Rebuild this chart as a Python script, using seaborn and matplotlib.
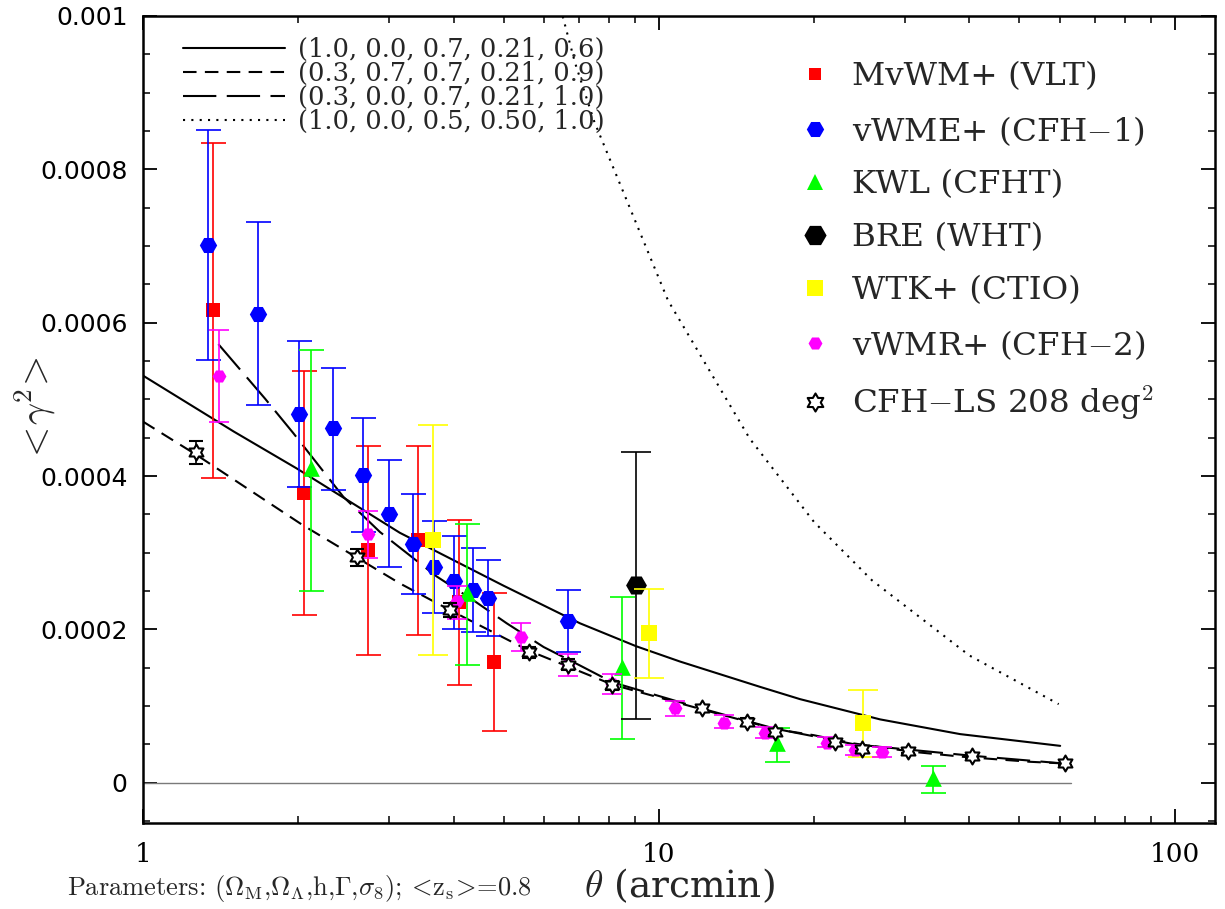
import numpy as np
import pandas as pd
import matplotlib
matplotlib.use("Agg")
import matplotlib.pyplot as plt
import seaborn as sns
from matplotlib.lines import Line2D
from matplotlib.path import Path
from matplotlib.ticker import MultipleLocator, LogLocator, NullFormatter

# ---------------- data ----------------
vlt_x = [1.365, 2.049, 2.731, 3.42, 4.10, 4.79]
vlt_y = [0.000616, 0.000378, 0.000304, 0.000317, 0.000236, 0.000158]
vlt_lo = [0.000397, 0.000219, 0.000167, 0.000193, 0.000127, 0.0000673]
vlt_hi = [0.000835, 0.000537, 0.000439, 0.000439, 0.000343, 0.000248]

cfh1_x = [1.335, 1.669, 2.004, 2.336, 2.671, 3.004, 3.334, 3.672, 4.01, 4.37, 4.674, 6.68]
cfh1_y = [0.000701, 0.000611, 0.000481, 0.000462, 0.000402, 0.000351, 0.000311, 0.000282,
          0.000263, 0.000252, 0.000241, 0.000211]
cfh1_lo = [0.000551, 0.000492, 0.000386, 0.000382, 0.000327, 0.000282, 0.000246, 0.000222,
           0.000201, 0.000196, 0.000191, 0.000171]
cfh1_hi = [0.000851, 0.000731, 0.000576, 0.000541, 0.000476, 0.000421, 0.000376, 0.000341,
           0.000322, 0.000306, 0.000291, 0.000251]

kwl_x = [2.12, 4.255, 8.48, 16.93, 33.94]
kwl_y = [0.000410, 0.000247, 0.000151, 0.0000513, 0.0000064]
kwl_lo = [0.000250, 0.000153, 0.0000565, 0.0000273, -0.000014]
kwl_hi = [0.000564, 0.000337, 0.000242, 0.000071, 0.000022]

bre_x = [9.036]
bre_y = [0.000258]
bre_lo = [0.000083]
bre_hi = [0.000431]

wtk_x = [3.645, 9.58, 24.86]
wtk_y = [0.000317, 0.000195, 0.0000773]
wtk_lo = [0.000167, 0.000136, 0.0000338]
wtk_hi = [0.000467, 0.000253, 0.000121]

cfh2_x = [1.402, 2.73, 4.07, 5.40, 6.68, 8.13, 10.75, 13.4, 16.07, 21.17, 24.03, 27.06]
cfh2_y = [0.000530, 0.000324, 0.000237, 0.000190, 0.000155, 0.000129, 0.0000969, 0.0000781,
          0.0000651, 0.0000521, 0.0000425, 0.0000403]
cfh2_lo = [0.000471, 0.000293, 0.000214, 0.000172, 0.000139, 0.000116, 0.0000869, 0.0000708,
           0.000058, 0.000046, 0.000036, 0.000034]
cfh2_hi = [0.000590, 0.000354, 0.000256, 0.000208, 0.000168, 0.000142, 0.000106, 0.0000882,
           0.000073, 0.000059, 0.000049, 0.000047]

cfhls_x = [1.267, 2.604, 3.94, 5.61, 6.68, 8.13, 12.15, 14.81, 16.81, 21.98, 24.8, 30.48, 40.56, 61.4]
cfhls_y = [0.000431, 0.000294, 0.000225, 0.000170, 0.000154, 0.000127, 0.0000969, 0.0000794,
           0.0000664, 0.0000526, 0.000044, 0.0000416, 0.0000351, 0.000026]
cfhls_err = [0.000015, 0.000011, 0.000009, 0.000007, 0.000007, 0.000006, 0.000005, 0.000005,
             0.000004, 0.000004, 0.000003, 0.000003, 0.000003, 0.000003]

# model curves
m1_x = [1.0, 1.5, 1.985, 3.147, 5.0, 7.03, 9.04, 11.0, 15.72, 18.79, 26.86, 38.4, 60.0]
m1_y = [0.000531, 0.000458, 0.000410, 0.000326, 0.000257, 0.000208, 0.000178, 0.000158,
        0.000125, 0.000109, 0.0000826, 0.0000634, 0.0000481]
m2_x = [1.0, 1.267, 2.04, 3.147, 3.94, 5.61, 8.13, 12.15, 16.8, 19.94, 23.85, 31.1, 38.9, 52.5, 61.5]
m2_y = [0.000471, 0.000428, 0.000336, 0.000260, 0.000225, 0.000172, 0.000128, 0.0000955,
        0.0000700, 0.0000621, 0.0000513, 0.0000403, 0.0000338, 0.0000273, 0.0000250]
m3_x = [1.4, 1.724, 1.956, 2.445, 2.88, 3.71, 4.37, 5.07, 5.98, 7.03, 8.13, 12.0, 16.8, 24.0, 40.0, 60.0]
m3_y = [0.000572, 0.000501, 0.000456, 0.000373, 0.000327, 0.000269, 0.000238, 0.000208,
        0.000177, 0.000153, 0.000131, 0.0000975, 0.0000705, 0.0000500, 0.0000355, 0.0000255]
m4_x = [6.45, 6.88, 7.49, 10.42, 15.0, 20.0, 25.9, 40.0, 59.6]
m4_y = [0.00101, 0.000939, 0.000863, 0.000629, 0.000449, 0.00034, 0.000264, 0.000166, 0.0001025]

model_labels = ["(1.0, 0.0, 0.7, 0.21, 0.6)", "(0.3, 0.7, 0.7, 0.21, 0.9)",
                "(0.3, 0.0, 0.7, 0.21, 1.0)", "(1.0, 0.0, 0.5, 0.50, 1.0)"]

zero_x = [1.0, 63.0]
zero_y = [0.0, 0.0]

y_ticks = [0.0, 0.0002, 0.0004, 0.0006, 0.0008, 0.001]
y_tick_labels = ["0", "0.0002", "0.0004", "0.0006", "0.0008", "0.001"]
x_ticks = [1, 10, 100]
x_tick_labels = ["1", "10", "100"]

series_labels = ["MvWM+ (VLT)", "vWME+ (CFH$-$1)", "KWL (CFHT)", "BRE (WHT)",
                 "WTK+ (CTIO)", "vWMR+ (CFH$-$2)", "CFH$-$LS 208 deg$^2$"]

# ---------------- style ----------------
sns.set_theme(style="ticks")
plt.rcParams.update({
    "axes.edgecolor": "black",
    "axes.linewidth": 1.8,
    "xtick.color": "black",
    "ytick.color": "black",
    "mathtext.fontset": "cm",
    "axes.formatter.use_mathtext": True,
    "axes.facecolor": "white",
    "figure.facecolor": "white",
})
plt.rcParams["font.family"] = ["DejaVu Serif", "DejaVu Sans"]

# hexagram marker
ang = np.pi / 2 + np.arange(12) * np.pi / 6
rad = np.where(np.arange(12) % 2 == 0, 1.0, 0.58)
verts = np.column_stack([rad * np.cos(ang), rad * np.sin(ang)])
verts = np.vstack([verts, verts[:1]])
star6 = Path(verts, [Path.MOVETO] + [Path.LINETO] * 11 + [Path.CLOSEPOLY])

fig = plt.figure(figsize=(12.25, 9.09), dpi=100)
ax = fig.add_axes([0.11673, 0.09505, 0.87486, 0.88735])
ax.set_xscale("log")

# zero line
ax.plot(zero_x, zero_y, color="#7a7a7a", lw=1.0, zorder=1)

# model curves via seaborn
curves = pd.concat([
    pd.DataFrame({"theta": xs, "g2": ys, "model": lab})
    for xs, ys, lab in zip([m1_x, m2_x, m3_x, m4_x], [m1_y, m2_y, m3_y, m4_y], model_labels)
], ignore_index=True)
dash_codes = ["", (6.5, 4), (16, 5), (1, 3)]
sns.lineplot(data=curves, x="theta", y="g2", style="model", style_order=model_labels,
             dashes=dict(zip(model_labels, dash_codes)), color="black", linewidth=1.5,
             estimator=None, legend=False, ax=ax, zorder=2)

# data sets
datasets = [
    (vlt_x, vlt_y, vlt_lo, vlt_hi, "#ff0000", "s", 10, 9),
    (cfh1_x, cfh1_y, cfh1_lo, cfh1_hi, "#0000ff", "H", 12.5, 9),
    (kwl_x, kwl_y, kwl_lo, kwl_hi, "#00ff00", "^", 12, 9),
    (bre_x, bre_y, bre_lo, bre_hi, "#000000", "H", 15, 10.5),
    (wtk_x, wtk_y, wtk_lo, wtk_hi, "#ffff00", "s", 11.5, 10.5),
    (cfh2_x, cfh2_y, cfh2_lo, cfh2_hi, "#ff00ff", "H", 10, 7),
]
z = 3
for xs, ys, lo, hi, col, mk, ms, cs in datasets:
    ys_a = np.array(ys)
    yerr = [ys_a - np.array(lo), np.array(hi) - ys_a]
    ax.errorbar(xs, ys, yerr=yerr, fmt="none", ecolor=col, elinewidth=1.2,
                capsize=cs, capthick=1.2, zorder=z)
    sns.scatterplot(x=xs, y=ys, marker=mk, s=ms ** 2, color=col, linewidth=0,
                    ax=ax, zorder=z + 0.5, legend=False)
    z += 1

ax.errorbar(cfhls_x, cfhls_y, yerr=cfhls_err, fmt="none", ecolor="black", elinewidth=1.2,
            capsize=5, capthick=1.5, zorder=z)
sns.scatterplot(x=cfhls_x, y=cfhls_y, marker=star6, s=11.5 ** 2, color="white",
                edgecolor="black", linewidth=1.5, ax=ax, zorder=z + 0.5, legend=False)

# axes
ax.set_xlim(1, 119.6)
ax.set_ylim(-0.000052, 0.001)
ax.set_xticks(x_ticks, labels=x_tick_labels, fontsize=19, fontfamily="DejaVu Serif")
ax.xaxis.set_minor_locator(LogLocator(base=10, subs=np.arange(2, 10)))
ax.xaxis.set_minor_formatter(NullFormatter())
ax.set_yticks(y_ticks, labels=y_tick_labels, fontsize=18, fontfamily="DejaVu Sans")
ax.yaxis.set_minor_locator(MultipleLocator(0.00005))
ax.tick_params(which="both", direction="in", top=True, right=True)
ax.tick_params(which="major", length=10, width=1.3)
ax.tick_params(which="minor", length=5, width=1.1)
ax.tick_params(axis="x", which="major", pad=14)
ax.tick_params(axis="y", which="major", pad=11)
for sp in ax.spines.values():
    sp.set_linewidth(1.8)

ax.set_xlabel(r"$\theta$ (arcmin)", fontsize=27, fontfamily="DejaVu Serif")
ax.xaxis.set_label_coords(0.5002, -0.054)
ax.set_ylabel(r"$<\!\gamma^2\!>$", fontsize=28)
ax.yaxis.set_label_coords(-0.0793, 0.5115)

# left legend: models
model_handles = [Line2D([], [], color="black", lw=1.5, linestyle="-"),
                 Line2D([], [], color="black", lw=1.5, linestyle=(0, (6.5, 4))),
                 Line2D([], [], color="black", lw=1.5, linestyle=(0, (16, 5))),
                 Line2D([], [], color="black", lw=1.5, linestyle=(0, (1, 3)))]
leg1 = ax.legend(model_handles, model_labels, loc="upper left",
                 bbox_to_anchor=(0.0373, 0.974), frameon=False, borderpad=0,
                 borderaxespad=0, prop={"family": "DejaVu Serif", "size": 18.5},
                 handlelength=3.97, handletextpad=0.51, labelspacing=-0.04)
ax.add_artist(leg1)

# right legend: data sets
series_handles = [
    Line2D([], [], ls="none", marker="s", ms=9, color="#ff0000", mew=0),
    Line2D([], [], ls="none", marker="H", ms=12.5, color="#0000ff", mew=0),
    Line2D([], [], ls="none", marker="^", ms=11, color="#00ff00", mew=0),
    Line2D([], [], ls="none", marker="H", ms=16, color="#000000", mew=0),
    Line2D([], [], ls="none", marker="s", ms=11.5, color="#ffff00", mew=0),
    Line2D([], [], ls="none", marker="H", ms=10, color="#ff00ff", mew=0),
    Line2D([], [], ls="none", marker=star6, ms=13, markerfacecolor="white",
           markeredgecolor="black", mew=1.5),
]
ax.legend(series_handles, series_labels, loc="upper left",
          bbox_to_anchor=(0.6118, 0.9442), frameon=False, borderpad=0,
          borderaxespad=0, prop={"family": "DejaVu Serif", "size": 23.4},
          handlelength=1.0, handletextpad=0.635, labelspacing=0.67)

fig.text(67 / 1225, 1 - 888 / 909,
         r"Parameters: ($\Omega_{\rm M}$,$\Omega_\Lambda$,h,$\Gamma$,$\sigma_8$); "
         r"$\!<\!$z$_{\rm s}$$\!>\!$=0.8",
         fontsize=19, family="cmr10", ha="left", va="center")

fig.savefig("out.png", dpi=100)
